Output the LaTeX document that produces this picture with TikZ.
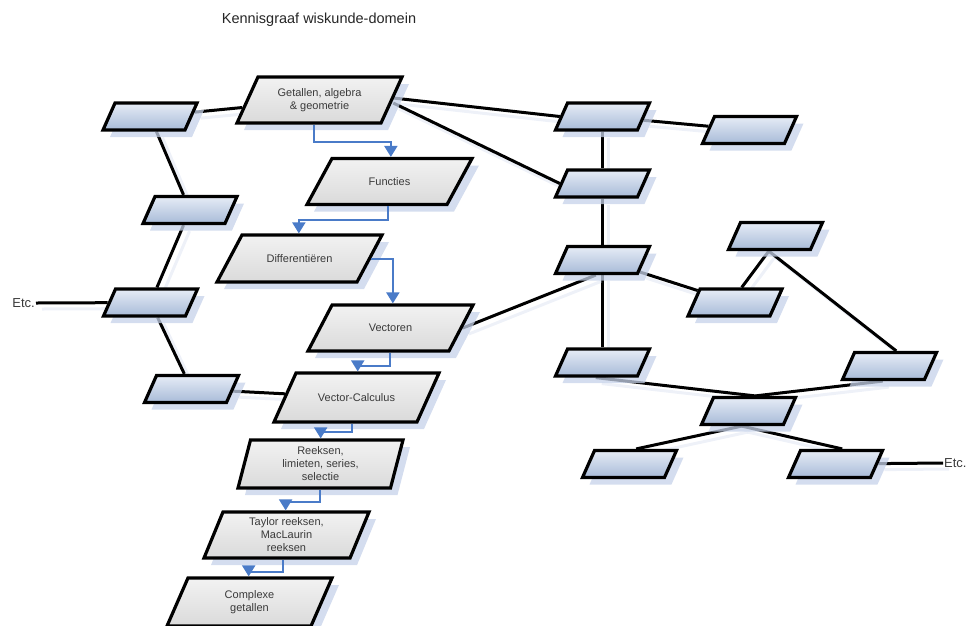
\documentclass[tikz,border=0pt]{standalone}
\usepackage{fontspec}
\setmainfont{Liberation Sans}
\usetikzlibrary{shapes.geometric,shadows,arrows.meta,calc}

\definecolor{smalltop}{HTML}{E6ECF6}
\definecolor{smallbot}{HTML}{A8BBD8}
\definecolor{bigtop}{HTML}{F2F2F2}
\definecolor{bigbot}{HTML}{DADADA}
\definecolor{shade}{HTML}{C6D2E9}
\definecolor{flowblue}{HTML}{4A7BC8}
\definecolor{labeltext}{HTML}{3A3A3A}

\pgfdeclarelayer{bg}
\pgfsetlayers{bg,main}

\tikzset{
  box/.style={trapezium, trapezium stretches body=true, draw=black,
    line width=3.2pt, inner sep=0pt,
    drop shadow={shadow xshift=7pt, shadow yshift=-7pt, fill=shade, opacity=0.75}},
  lbl/.style={align=center, text=labeltext, inner sep=0pt,
    font=\fontsize{11}{13}\selectfont},
  smallbox/.style={box, minimum width=94pt, text height=13.5pt, text depth=13.5pt,
    trapezium left angle=66, trapezium right angle=114,
    top color=smalltop, bottom color=smallbot},
  bigbox/.style n args={3}{box, minimum width=165pt,
    text height=#2, text depth=#2,
    trapezium left angle=#1, trapezium right angle=180-#1,
    top color=bigtop, bottom color=bigbot,
    label={[lbl]center:{#3}}},
  link/.style={draw=black, line width=3pt,
    preaction={draw=shade, line width=3pt, opacity=0.3,
      transform canvas={xshift=6pt, yshift=-6pt}}},
  flow/.style={draw=flowblue, line width=2pt,
    -{Triangle[width=13pt,length=11pt]}},
  etc/.style={font=\fontsize{13}{15}\selectfont, text=labeltext, inner sep=1pt},
}

\begin{document}
\begin{tikzpicture}[x=1pt, y=-1pt]
\useasboundingbox (0,0) rectangle (974,625);
\clip (0,0) rectangle (974,625);

% title
\node[font=\fontsize{14.5}{16}\selectfont, text=black!85] (title) at (319,20)
  {Kennisgraaf wiskunde-domein};

% main chain of topics
\node[bigbox={65.5}{23pt}{Getallen, algebra\\\& geometrie}] (g) at (319.5,100) {};
\node[bigbox={61.5}{23pt}{Functies}] (fun) at (389.5,181.5) {};
\node[bigbox={62}{23.5pt}{Differentiëren}] (dif) at (299.5,258.5) {};
\node[bigbox={62.4}{23pt}{Vectoren}] (vec) at (390.5,328) {};
\node[bigbox={65.8}{24.5pt}{Vector-Calculus}] (vc) at (356.5,397.5) {};
\node[bigbox={75.4}{24pt}{Reeksen,\\limieten, series,\\selectie}] (ree) at (320.5,464) {};
\node[bigbox={67.6}{23pt}{Taylor reeksen,\\MacLaurin\\reeksen}] (tay) at (286.5,535) {};
\node[bigbox={66.4}{24pt}{Complexe\\getallen}] (com) at (249.5,602) {};

% left branch
\node[smallbox] (l1) at (150,116.5) {};
\node[smallbox] (l2) at (190,210)   {};
\node[smallbox] (l3) at (150.5,302.5) {};
\node[smallbox] (l4) at (191.5,389) {};
\node[etc, anchor=east] (etcL) at (36,303) {Etc.};

% right network
\node[smallbox] (r1)  at (602.5,116.5) {};
\node[smallbox] (r2)  at (749.5,130)   {};
\node[smallbox] (r3)  at (602.5,183.5) {};
\node[smallbox] (r4)  at (602.5,260)   {};
\node[smallbox] (r5)  at (775.5,236)   {};
\node[smallbox] (r6)  at (735,302.5)   {};
\node[smallbox] (r7)  at (602.5,362.5) {};
\node[smallbox] (r8)  at (889.5,366)   {};
\node[smallbox] (r9)  at (748.5,411)   {};
\node[smallbox] (r10) at (629.5,464)   {};
\node[smallbox] (r11) at (835.5,464)   {};
\node[etc, anchor=west] (etcR) at (943,463) {Etc.};

% undirected relations, behind the boxes
\begin{pgfonlayer}{bg}
\draw[link] (l1) -- (g);
\draw[link] (l1) -- (l2);
\draw[link] (l2) -- (l3);
\draw[link] (l3) -- (l4);
\draw[link] (l4) -- (vc);
\draw[link] (etcL.east) -- (l3);
\draw[link] ([yshift=2pt]g.right side) -- (r1.left side);
\draw[link] ([yshift=-3pt]g.right side) -- (r3.left side);
\draw[link] (r1) -- (r2);
\draw[link] (r1) -- (r3);
\draw[link] (r3) -- (r4);
\draw[link] (r4) -- (r7);
\draw[link] (r4.bottom side) -- (vec.right side);
\draw[link] (r4) -- (r6);
\draw[link] (r5.bottom side) -- (r6.top side);
\draw[link] (r5.bottom side) -- (r8.top side);
\draw[link] (r7.bottom side) -- (r9.top side);
\draw[link] (r8.bottom side) -- (r9.top side);
\draw[link] (r9.bottom side) -- (r10.top side);
\draw[link] (r9.bottom side) -- (r11.top side);
\draw[link] (r11) -- (etcR.west);
\end{pgfonlayer}

% learning order
\draw[flow] ([xshift=6pt]g.bottom side) -- ++(0,17) -| ([xshift=-12pt]fun.top side);
\draw[flow] ([xshift=11.5pt]fun.bottom side) -- ++(0,13.5) -| ([xshift=-14pt]dif.top side);
\draw[flow] (dif.right side) -| ([xshift=-10.5pt]vec.top side);
\draw[flow] ([xshift=12pt]vec.bottom side) -- ++(0,13) -| ([xshift=-10.5pt]vc.top side);
\draw[flow] ([xshift=7pt]vc.bottom side) -- ++(0,8) -| ([xshift=-6.5pt]ree.top side);
\draw[flow] ([xshift=6pt]ree.bottom side) -- ++(0,12) -| ([xshift=-11pt]tay.top side);
\draw[flow] ([xshift=6.5pt]tay.bottom side) -- ++(0,12) -| ([xshift=-12pt]com.top side);
\end{tikzpicture}
\end{document}
